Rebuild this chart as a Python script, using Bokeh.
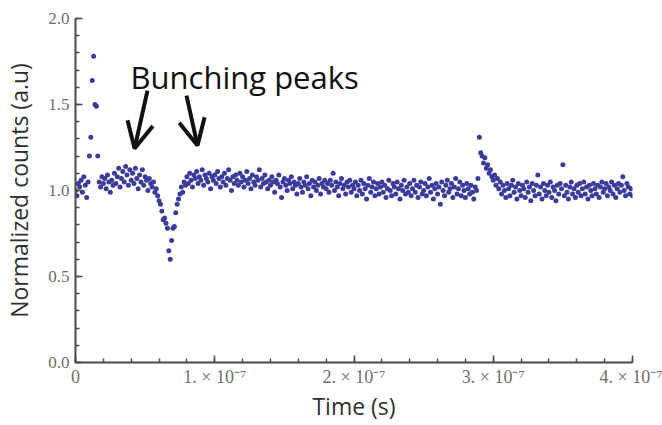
from bokeh.plotting import figure
from bokeh.models import Range1d, FixedTicker, Label, Arrow, OpenHead, PrintfTickFormatter
from bokeh.embed import file_html
from bokeh.resources import INLINE

# time bins (ns) -> seconds, normalized coincidence counts
counts = [
    1.00, 0.97, 1.04, 1.02, 1.06, 0.99, 1.08, 1.03, 0.96, 1.05, 1.20, 1.31, 1.64, 1.78, 1.50, 1.49, 1.20, 1.05, 1.02, 1.08,
    1.04, 1.07, 1.01, 1.09, 1.05, 0.99, 1.06, 1.03, 1.10, 1.04, 1.08, 1.13, 1.02, 1.07, 1.11, 1.05, 1.14, 1.09, 1.03, 1.12,
    1.06, 1.10, 1.04, 1.13, 1.07, 1.01, 1.09, 1.05, 1.12, 1.03, 1.08, 1.06, 1.00, 1.07, 1.04, 1.02, 1.05, 0.99, 1.01, 0.97,
    0.94, 0.92, 0.88, 0.83, 0.84, 0.81, 0.78, 0.65, 0.60, 0.71, 0.78, 0.79, 0.87, 0.92, 0.95, 0.98, 1.02, 0.99, 1.05, 1.03,
    1.08, 1.04, 1.10, 1.06, 1.02, 1.09, 1.07, 1.11, 1.04, 1.08, 1.06, 1.12, 1.03, 1.09, 1.07, 1.05, 1.10, 1.01, 1.08, 1.06,
    1.09, 1.04, 1.11, 1.07, 1.02, 1.08, 1.05, 1.10, 1.03, 1.07, 1.12, 1.06, 1.00, 1.08, 1.04, 1.09, 1.06, 1.03, 1.10, 1.05,
    1.08, 1.02, 1.06, 1.11, 1.04, 1.07, 1.01, 1.09, 1.05, 1.03, 1.08, 1.06, 1.12, 1.02, 1.07, 1.04, 1.09, 1.05, 1.01, 1.06,
    1.03, 1.08, 1.05, 0.99, 1.06, 1.04, 1.09, 1.02, 0.96, 1.05, 1.07, 1.03, 1.00, 1.06, 1.04, 1.08, 1.01, 1.05, 1.03, 0.98,
    1.04, 1.07, 1.02, 0.99, 1.05, 1.03, 1.08, 1.01, 1.04, 0.97, 1.06, 1.02, 1.05, 1.00, 1.03, 1.07, 0.98, 1.04, 1.02, 1.06,
    1.01, 1.04, 0.99, 1.06, 1.03, 1.10, 1.00, 1.05, 1.02, 0.97, 1.04, 1.07, 1.01, 1.03, 0.98, 1.05, 1.02, 1.06, 0.99, 1.03,
    1.01, 1.05, 0.97, 1.03, 1.00, 1.06, 0.98, 1.04, 1.01, 0.95, 1.03, 1.07, 0.99, 1.02, 1.05, 0.97, 1.01, 1.04, 0.98, 1.02,
    1.05, 0.99, 1.03, 0.96, 1.01, 1.06, 1.00, 0.97, 1.04, 1.02, 0.98, 1.05, 1.01, 0.95, 1.03, 1.00, 1.06, 0.98, 1.02, 0.99,
    1.04, 0.97, 1.01, 1.06, 0.99, 1.03, 0.96, 1.02, 1.05, 0.98, 1.00, 1.04, 0.97, 1.02, 1.07, 0.99, 1.03, 0.95, 1.01, 1.04,
    0.98, 1.02, 0.92, 1.05, 1.00, 0.97, 1.03, 1.06, 0.99, 1.01, 1.04, 0.96, 1.02, 1.07, 0.98, 1.01, 1.05, 0.97, 1.03, 1.00,
    0.96, 1.04, 1.01, 0.98, 1.03, 0.99, 0.95, 1.02, 1.00, 1.07, 1.31, 1.22, 1.20, 1.16, 1.19, 1.13, 1.15, 1.10, 1.12, 1.08,
    1.06, 1.09, 1.03, 1.07, 1.01, 1.05, 0.98, 1.03, 1.00, 0.96, 1.04, 1.01, 0.97, 1.03, 1.06, 0.99, 1.02, 0.95, 1.04, 1.00,
    0.97, 1.03, 1.01, 0.96, 1.05, 0.99, 1.02, 0.94, 1.04, 1.00, 0.97, 1.03, 1.09, 0.98, 1.02, 0.95, 1.04, 1.00, 0.97, 1.03,
    0.99, 1.05, 0.96, 1.02, 1.00, 0.94, 1.03, 0.98, 1.04, 1.01, 1.15, 0.97, 1.03, 0.99, 0.95, 1.02, 1.05, 0.98, 1.01, 0.96,
    1.03, 0.99, 1.04, 0.97, 1.01, 1.05, 0.98, 1.02, 0.95, 1.03, 1.00, 0.97, 1.04, 1.01, 0.98, 1.03, 0.96, 1.02, 1.05, 0.99,
    1.01, 1.04, 0.97, 1.02, 1.00, 1.05, 0.98, 1.03, 0.96, 1.01, 1.04, 0.99, 1.03, 1.08, 1.00, 0.97, 1.04, 1.02, 0.98, 1.01,
    0.97,
]
bin_width_s = 1e-9
times = [i * bin_width_s for i in range(len(counts))]

x_ticks = [0.0, 1e-7, 2e-7, 3e-7, 4e-7]
x_tick_labels = ["0", "1. \u00d7 10\u207b\u2077", "2. \u00d7 10\u207b\u2077", "3. \u00d7 10\u207b\u2077", "4. \u00d7 10\u207b\u2077"]
x_minor = [k * 0.2e-7 for k in range(21)]
y_ticks = [0.0, 0.5, 1.0, 1.5, 2.0]
y_minor = [k * 0.1 for k in range(21)]

p = figure(width=662, height=425, output_backend="svg", toolbar_location=None,
           x_range=Range1d(0, 4e-7), y_range=Range1d(0, 2.0),
           min_border_left=75, min_border_right=30, min_border_top=18, min_border_bottom=63)
p.outline_line_color = None
p.xgrid.visible = False
p.ygrid.visible = False
p.background_fill_color = "white"
p.border_fill_color = "white"

p.scatter(times, counts, size=5, fill_color="#3b3b9c", line_color=None)

axis_col = "#4a4a4a"
tick_font = "Liberation Serif"
for ax in (p.xaxis[0], p.yaxis[0]):
    ax.axis_line_color = axis_col
    ax.axis_line_width = 2
    ax.major_tick_line_color = axis_col
    ax.minor_tick_line_color = axis_col
    ax.major_tick_line_width = 1.5
    ax.minor_tick_line_width = 1.5
    ax.major_tick_in = 7
    ax.major_tick_out = 0
    ax.minor_tick_in = 4
    ax.minor_tick_out = 0
    ax.major_label_text_font = tick_font
    ax.major_label_text_font_size = "18px"
    ax.major_label_text_color = "#6e6e6e"
    ax.axis_label_text_font = "Open Sans"
    ax.axis_label_text_font_size = "23px"
    ax.axis_label_text_font_style = "normal"
    ax.axis_label_text_color = "#303030"

p.xaxis[0].ticker = FixedTicker(ticks=x_ticks, minor_ticks=x_minor)
p.xaxis[0].major_label_overrides = {t: l for t, l in zip(x_ticks, x_tick_labels)}
p.xaxis[0].axis_label = "Time (s)"
p.xaxis[0].major_label_standoff = 4
p.xaxis[0].axis_label_standoff = 0

p.yaxis[0].ticker = FixedTicker(ticks=y_ticks, minor_ticks=y_minor)
p.yaxis[0].formatter = PrintfTickFormatter(format="%.1f")
p.yaxis[0].major_label_text_font_size = "17px"
p.yaxis[0].axis_label = "Normalized counts (a.u)"
p.yaxis[0].major_label_standoff = 6
p.yaxis[0].axis_label_standoff = 10

p.add_layout(Label(x=39.5e-9, y=1.657, text="Bunching peaks", text_font="Open Sans",
                   text_font_size="31px", text_color="#111111", text_baseline="alphabetic"))

for xs, ys, xe, ye in [(51.7e-9, 1.581, 42.4e-9, 1.244), (79.7e-9, 1.552, 87.6e-9, 1.262)]:
    p.add_layout(Arrow(end=OpenHead(size=26, line_width=4, line_color="#111111"),
                       x_start=xs, y_start=ys, x_end=xe, y_end=ye,
                       line_width=4, line_color="#111111"))

open("out.html", "w").write(file_html(p, INLINE))
